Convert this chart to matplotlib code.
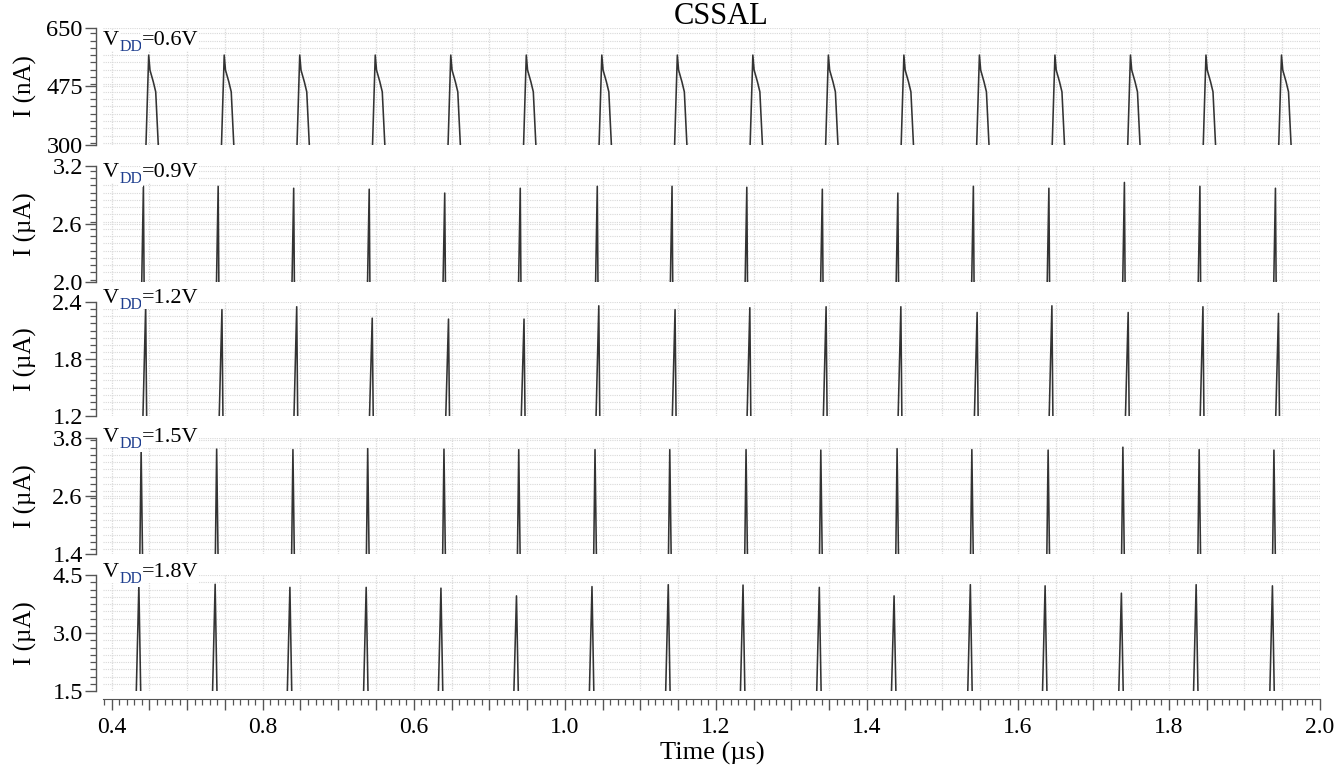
import numpy as np
import matplotlib
matplotlib.use("Agg")
import matplotlib.pyplot as plt
from matplotlib.ticker import MultipleLocator, FixedLocator, FuncFormatter

plt.rcParams['font.family'] = ['Liberation Serif', 'DejaVu Serif']

# ---------------- data ----------------
title = "CSSAL"
x_label = "Time (µs)"
x_ticks = [0.4, 0.6, 0.8, 1.0, 1.2, 1.4, 1.6, 1.8, 2.0]
x_tick_labels = ["0.4", "0.8", "0.6", "1.0", "1.2", "1.4", "1.6", "1.8", "2.0"]
x_limits = (0.3885, 2.0)

vdd_values = ["0.6V", "0.9V", "1.2V", "1.5V", "1.8V"]
y_labels = ["I (nA)", "I (µA)", "I (µA)", "I (µA)", "I (µA)"]
y_limits = [(300, 650), (2.0, 3.2), (1.2, 2.4), (1.4, 3.8), (1.5, 4.5)]
y_tick_labels = [["300", "475", "650"], ["2.0", "2.6", "3.2"], ["1.2", "1.8", "2.4"],
                 ["1.4", "2.6", "3.8"], ["1.5", "3.0", "4.5"]]

# peak times (µs) of each current pulse, per supply voltage
peak_t_06 = [0.449, 0.549, 0.649, 0.749, 0.849, 0.949, 1.049, 1.149,
             1.249, 1.349, 1.449, 1.549, 1.649, 1.749, 1.849, 1.949]
peak_t_09 = [0.442, 0.541, 0.641, 0.741, 0.841, 0.941, 1.043, 1.142,
             1.241, 1.341, 1.441, 1.541, 1.641, 1.741, 1.841, 1.941]
peak_t_12 = [0.445, 0.546, 0.645, 0.745, 0.846, 0.946, 1.045, 1.146,
             1.245, 1.346, 1.445, 1.546, 1.645, 1.746, 1.845, 1.945]
peak_t_15 = [0.439, 0.539, 0.640, 0.739, 0.840, 0.939, 1.040, 1.139,
             1.240, 1.339, 1.440, 1.539, 1.640, 1.739, 1.840, 1.939]
peak_t_18 = [0.436, 0.537, 0.636, 0.737, 0.836, 0.936, 1.036, 1.137,
             1.236, 1.337, 1.436, 1.537, 1.636, 1.737, 1.836, 1.937]

# peak currents
peak_i_06 = [569, 569, 569, 569, 569, 569, 569, 569,
             569, 569, 569, 569, 569, 569, 569, 569]
peak_i_09 = [2.99, 2.99, 2.97, 2.96, 2.92, 2.97, 2.99, 2.99,
             2.98, 2.96, 2.92, 2.99, 2.97, 3.03, 2.99, 2.97]
peak_i_12 = [2.36, 2.32, 2.35, 2.23, 2.22, 2.22, 2.36, 2.32,
             2.34, 2.35, 2.35, 2.29, 2.36, 2.29, 2.35, 2.28]
peak_i_15 = [3.56, 3.57, 3.56, 3.58, 3.57, 3.56, 3.56, 3.56,
             3.56, 3.55, 3.58, 3.56, 3.55, 3.61, 3.56, 3.55]
peak_i_18 = [4.24, 4.26, 4.18, 4.18, 4.16, 3.96, 4.20, 4.25,
             4.24, 4.18, 3.96, 4.25, 4.22, 4.03, 4.25, 4.22]

# pulse shape: time offsets from peak (µs) and tail currents after peak
shape_dt_06 = [-0.0036, 0.0, 0.0017, 0.0061, 0.0093, 0.0127]
tail_i_06 = [524, 489, 459]
shape_dt_09 = [-0.0022, 0.0, 0.0009]
shape_dt_12 = [-0.0036, 0.0, 0.0013]
shape_dt_15 = [-0.0017, 0.0, 0.0018]
shape_dt_18 = [-0.0034, 0.0, 0.0024]

panels = [
    (peak_t_06, peak_i_06, shape_dt_06, tail_i_06),
    (peak_t_09, peak_i_09, shape_dt_09, []),
    (peak_t_12, peak_i_12, shape_dt_12, []),
    (peak_t_15, peak_i_15, shape_dt_15, []),
    (peak_t_18, peak_i_18, shape_dt_18, []),
]

# ---------------- layout (pixels) ----------------
W, H = 1341, 768
ax_left, ax_right = 103, 1320
ax_tops = [28, 166, 302, 438, 575]
ax_bottoms = [145, 282, 416, 554, 691]
label_baselines = [45, 177, 303, 442, 577]

fig = plt.figure(figsize=(W / 100, H / 100), dpi=100)

line_color = '#333333'
spine_color = '#555555'
grid_color = '#d9d9d9'

for k in range(5):
    top, bot = ax_tops[k], ax_bottoms[k]
    ax = fig.add_axes([ax_left / W, 1 - bot / H, (ax_right - ax_left) / W, (bot - top) / H])
    ymin, ymax = y_limits[k]
    pt, pi, dts, tails = panels[k]
    xs, ys = [], []
    for t, p in zip(pt, pi):
        vals = [ymin, p] + list(tails) + [ymin]
        xs.extend([t + d for d in dts] + [np.nan])
        ys.extend(vals + [np.nan])
    ax.plot(xs, ys, color=line_color, lw=1.15, solid_joinstyle='round', zorder=3)

    ax.set_xlim(*x_limits)
    ax.set_ylim(ymin, ymax)
    for s in ['top', 'right']:
        ax.spines[s].set_visible(False)
    ax.spines['left'].set_position(('outward', 5))
    ax.spines['left'].set_color(spine_color)
    ax.spines['left'].set_linewidth(1.0)

    # y ticks
    mid = (ymin + ymax) / 2
    ax.yaxis.set_major_locator(FixedLocator([ymin, mid, ymax]))
    ax.set_yticklabels(y_tick_labels[k])
    ax.yaxis.set_minor_locator(MultipleLocator((ymax - ymin) / 16))
    ax.tick_params(axis='y', which='major', length=8, width=1.0, color=spine_color,
                   labelsize=17.5, pad=1.5)
    ax.tick_params(axis='y', which='minor', length=4.5, width=0.9, color=spine_color)

    # x ticks
    ax.xaxis.set_major_locator(MultipleLocator(0.05))
    ax.xaxis.set_minor_locator(MultipleLocator(0.01))

    def fmt(v, pos):
        for tv, tl in zip(x_ticks, x_tick_labels):
            if abs(v - tv) < 1e-6:
                return tl
        return ""
    ax.xaxis.set_major_formatter(FuncFormatter(fmt))

    ax.grid(True, which='major', axis='x', color=grid_color, lw=0.9, ls=(0, (1, 1)))
    ax.grid(True, which='both', axis='y', color=grid_color, lw=0.8, ls=(0, (1, 1)))
    ax.set_axisbelow(True)

    if k < 4:
        ax.spines['bottom'].set_visible(False)
        ax.tick_params(axis='x', which='both', bottom=False, labelbottom=False)
    else:
        ax.spines['bottom'].set_position(('outward', 6))
        ax.spines['bottom'].set_color(spine_color)
        ax.tick_params(axis='x', which='major', length=8, width=1.0, color=spine_color,
                       labelsize=17, pad=4.5)
        ax.tick_params(axis='x', which='minor', length=4, width=0.9, color=spine_color)

    # y label
    fig.text(25 / W, 1 - (top + bot) / 2 / H, y_labels[k], rotation=90,
             ha='center', va='center', fontsize=18)

    # V_DD label with coloured subscript
    yb = (bot - label_baselines[k]) / (bot - top)
    bb = dict(facecolor='white', edgecolor='none', pad=0.5)
    tv = ax.text(0.0, yb, "V", transform=ax.transAxes, ha='left', va='baseline',
                 fontsize=16, zorder=5, bbox=bb, clip_on=False)
    td = ax.annotate("DD", xy=(1, 0), xycoords=tv, xytext=(0, -0.5),
                     textcoords='offset points', ha='left', va='baseline',
                     fontsize=11.5, color='#1f3f8f', zorder=5, bbox=bb,
                     annotation_clip=False)
    ax.annotate("=" + vdd_values[k], xy=(1, 0), xycoords=(td, tv), xytext=(0, 0),
                textcoords='offset points', ha='left', va='bottom',
                fontsize=16, zorder=5, bbox=bb, annotation_clip=False)

fig.text(721 / W, 1 - 16 / H, title, ha='center', va='center', fontsize=22)
fig.text(712 / W, 1 - 753 / H, x_label, ha='center', va='center', fontsize=19)

fig.savefig("out.png", dpi=100)
